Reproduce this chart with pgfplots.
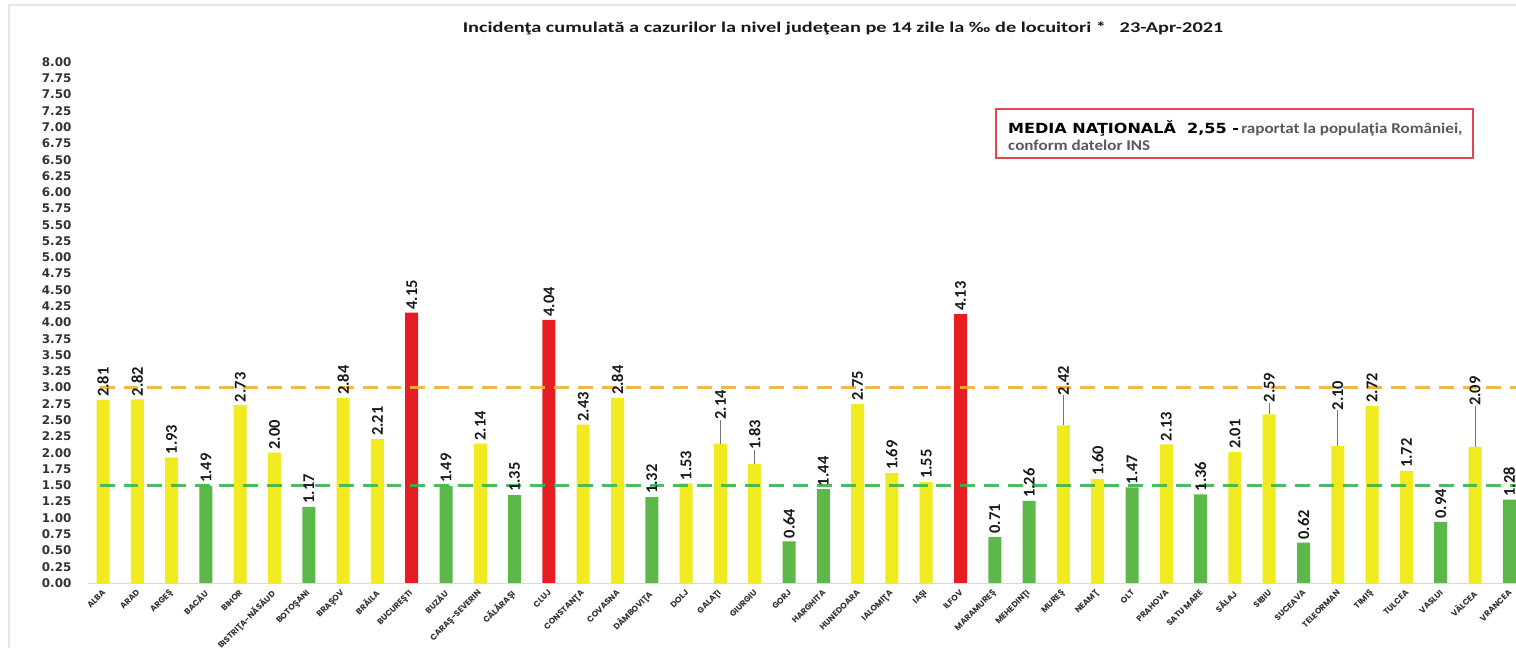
\documentclass[border=0pt]{standalone}
\usepackage{pgfplots}
\pgfplotsset{compat=1.18}
\usepackage{pgfplotstable}
\usepackage{graphicx}
\usepackage{fontspec}
\setmainfont{Carlito}
\newfontfamily\dejavu{DejaVu Sans}
\newfontfamily\poppins{Poppins}
\definecolor{byel}{RGB}{240,234,30}
\definecolor{bgrn}{RGB}{92,184,72}
\definecolor{bred}{RGB}{230,30,36}
\definecolor{dorange}{RGB}{240,178,50}
\definecolor{dgreen}{RGB}{60,180,80}
\definecolor{tgray}{RGB}{51,51,51}
\definecolor{boxred}{RGB}{228,70,80}
\newcommand{\xl}[1]{\rotatebox{45}{#1}}

\pgfplotstableread{
x y off err
0 2.81 3 0
1 2.82 3 0
2 1.93 3 0
4 2.73 3 0
5 2.00 3 0
7 2.84 3 0
8 2.21 3 0
11 2.14 3 0
14 2.43 3 0
15 2.84 3 0
17 1.53 3 0
18 2.14 24 0.37
19 1.83 14 0.215
22 2.75 3 0
23 1.69 3 0
24 1.55 3 0
28 2.42 30 0.46
29 1.60 3 0
31 2.13 3 0
33 2.01 3 0
34 2.59 12 0.18
36 2.10 36 0.55
37 2.72 3 0
38 1.72 3 0
40 2.09 41 0.63
}\yellowdata

\pgfplotstableread{
x y off err
3 1.49 3 0
6 1.17 3 0
10 1.49 3 0
12 1.35 3 0
16 1.32 3 0
20 0.64 3 0
21 1.44 3 0
26 0.71 3 0
27 1.26 3 0
30 1.47 3 0
32 1.36 3 0
35 0.62 3 0
39 0.94 3 0
41 1.28 3 0
}\greendata

\pgfplotstableread{
x y off err
9 4.15 3 0
13 4.04 3 0
25 4.13 3 0
}\reddata

\pgfplotsset{
  barstyle/.style={
    ybar, bar width=13bp, bar shift=0pt, draw=none,
    point meta=y,
    visualization depends on={\thisrow{off} \as \myoff},
    nodes near coords={\pgfmathprintnumber[fixed,fixed zerofill,precision=2,assume math mode=true]{\pgfplotspointmeta}},
    every node near coord/.append style={yshift=\myoff pt, anchor=west, rotate=90, inner sep=0pt,
      font=\bfseries\fontsize{16.5}{16.5}\selectfont, text=black!90},
    error bars/y dir=plus, error bars/y explicit, error bars/error mark=none,
    error bars/error bar style={draw=black!55, line width=0.9pt},
  },
}

\begin{document}
\begin{tikzpicture}
\useasboundingbox (0,0) rectangle (1516bp,648bp);
\fill[white] (0,0) rectangle (1516bp,648bp);
\draw[black!10, line width=1.2bp] (9bp,0) -- (9bp,643bp) -- (1516bp,643bp);
\begin{axis}[
  at={(87.6bp,65bp)}, anchor=south west,
  scale only axis, width=1428.6bp, height=521bp,
  xmin=-0.45, xmax=41.2, ymin=0, ymax=8,
  axis lines*=left,
  x axis line style={draw=black!15, line width=1pt},
  y axis line style={draw=none},
  major tick length=0pt,
  xtick={0,...,41},
  xticklabels={\xl{ALBA},\xl{ARAD},\xl{ARGEŞ},\xl{BACĂU},\xl{BIHOR},\xl{BISTRIŢA-NĂSĂUD},\xl{BOTOŞANI},\xl{BRAŞOV},\xl{BRĂILA},\xl{BUCUREŞTI},\xl{BUZĂU},\xl{CARAŞ-SEVERIN},\xl{CĂLĂRAŞI},\xl{CLUJ},\xl{CONSTANŢA},\xl{COVASNA},\xl{DÂMBOVIŢA},\xl{DOLJ},\xl{GALAŢI},\xl{GIURGIU},\xl{GORJ},\xl{HARGHITA},\xl{HUNEDOARA},\xl{IALOMIŢA},\xl{IAŞI},\xl{ILFOV},\xl{MARAMUREŞ},\xl{MEHEDINŢI},\xl{MUREŞ},\xl{NEAMŢ},\xl{OLT},\xl{PRAHOVA},\xl{SATU MARE},\xl{SĂLAJ},\xl{SIBIU},\xl{SUCEAVA},\xl{TELEORMAN},\xl{TIMIŞ},\xl{TULCEA},\xl{VASLUI},\xl{VÂLCEA},\xl{VRANCEA}},
  ytick={0,0.25,...,8},
  yticklabel={\pgfmathprintnumber[fixed,fixed zerofill,precision=2,assume math mode=true]{\tick}},
  yticklabel style={font=\dejavu\bfseries\fontsize{12}{12}\selectfont, text=tgray, anchor=east, inner sep=0pt, xshift=-16bp},
  xticklabel style={font=\poppins\bfseries\fontsize{8.3}{8.3}\selectfont, text=tgray, anchor=north east, inner sep=0pt, yshift=-6bp, xshift=3bp},
  clip=false,
]
\addplot[barstyle, fill=byel] table[x=x, y=y, y error=err] {\yellowdata};
\addplot[barstyle, fill=bgrn] table[x=x, y=y, y error=err] {\greendata};
\addplot[barstyle, fill=bred] table[x=x, y=y, y error=err] {\reddata};
\addplot[draw=dorange, opacity=0.9, line width=3pt, dash pattern=on 15pt off 9pt] coordinates {(-0.1,3) (41.2,3)};
\addplot[draw=dgreen, opacity=0.9, line width=3pt, dash pattern=on 15pt off 9pt] coordinates {(-0.1,1.5) (41.2,1.5)};
\end{axis}
\node[anchor=base, inner sep=0pt, text=black!90] at (843bp,615bp)
  {\scalebox{1.36}[1]{\bfseries\fontsize{15}{15}\selectfont Incidenţa cumulată a cazurilor la nivel judeţean pe 14 zile la ‰ de locuitori *\ \ \ 23-Apr-2021}};
\draw[boxred, line width=1.3bp] (996bp,490bp) rectangle (1473bp,539bp);
\node[anchor=base west, inner sep=0pt] at (1008bp,514bp)
  {\scalebox{1.15}[1]{\dejavu\bfseries\fontsize{14}{14}\selectfont MEDIA NAŢIONALĂ\ \ 2,55 -}\ \scalebox{1.14}[1]{\bfseries\fontsize{15}{15}\selectfont\color{black!65}raportat la populaţia României,}};
\node[anchor=base west, inner sep=0pt, text=black!65] at (1008bp,497bp)
  {\scalebox{1.14}[1]{\bfseries\fontsize{15}{15}\selectfont conform datelor INS}};
\end{tikzpicture}
\end{document}
